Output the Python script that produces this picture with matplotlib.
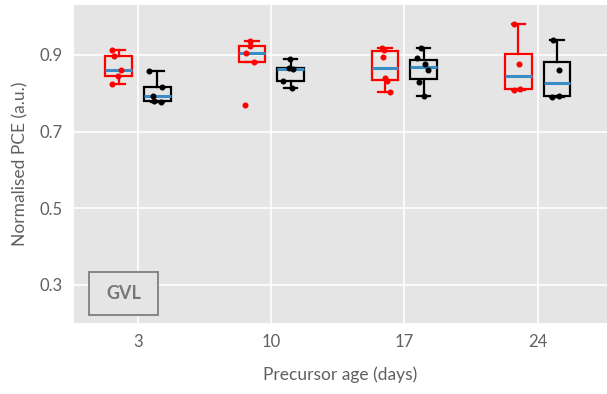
import numpy as np
import matplotlib
matplotlib.use("Agg")
import matplotlib.pyplot as plt
from matplotlib.patches import Rectangle

plt.rcParams['font.family'] = ['Lato', 'DejaVu Sans']

#%% data
ages = ['3', '10', '17', '24']

red_vals = [
    [0.913, 0.896, 0.860, 0.845, 0.825],
    [0.937, 0.924, 0.906, 0.881, 0.769],
    [0.918, 0.914, 0.894, 0.839, 0.832, 0.804],
    [0.981, 0.877, 0.812, 0.809],
]
black_vals = [
    [0.857, 0.817, 0.792, 0.779, 0.778],
    [0.889, 0.866, 0.863, 0.831, 0.813],
    [0.918, 0.891, 0.877, 0.861, 0.830, 0.794],
    [0.940, 0.861, 0.792, 0.791],
]

#%% plot
grey_txt = '#606060'
med_col = '#3a8cc4'
fig = plt.figure(figsize=(6.07, 3.94), dpi=100)
ax = fig.add_axes([0.122, 0.180, 0.878, 0.807])
ax.set_facecolor('#e5e5e5')

pos = np.arange(len(ages))
off = 0.145
rng = np.random.default_rng(3)

for vals, col, sgn in [(red_vals, 'red', -1), (black_vals, 'black', 1)]:
    p = pos + sgn * off
    ax.boxplot(vals, positions=p, widths=0.2, showfliers=False,
               whis=1.5, patch_artist=True,
               boxprops=dict(facecolor='none', edgecolor=col, linewidth=1.6),
               whiskerprops=dict(color=col, linewidth=1.6),
               capprops=dict(color=col, linewidth=1.6),
               medianprops=dict(color=med_col, linewidth=2.2),
               zorder=3)
    for x, v in zip(p, vals):
        jit = rng.uniform(-0.06, 0.04, len(v))
        ax.scatter(x + jit, v, s=11, color=col, zorder=4)

ax.set_xlim(-0.48, 3.52)
ax.set_ylim(0.2, 1.03)
ax.set_xticks(pos)
ax.set_xticklabels(ages)
ax.set_yticks([0.3, 0.5, 0.7, 0.9])
ax.grid(color='white', linewidth=1.2)
ax.set_axisbelow(True)
for s in ax.spines.values():
    s.set_visible(False)
ax.tick_params(length=0, labelsize=12, labelcolor=grey_txt, pad=8)
ax.set_xlabel('Precursor age (days)', fontsize=12.5, color=grey_txt, labelpad=12)
ax.set_ylabel('Normalised PCE (a.u.)', fontsize=12.5, color=grey_txt, labelpad=8)

ax.add_patch(Rectangle((0.028, 0.026), 0.130, 0.135, transform=ax.transAxes,
                       facecolor='#e5e5e5', edgecolor='#7f7f7f', linewidth=1.3, zorder=5))
ax.text(0.093, 0.093, 'GVL', transform=ax.transAxes, ha='center', va='center',
        fontsize=13, fontweight='bold', color='#777777', zorder=6)

fig.savefig('out.png', dpi=100)
